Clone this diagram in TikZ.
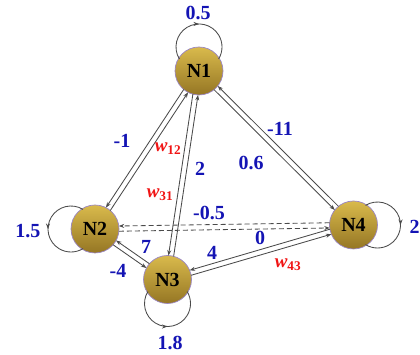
\documentclass[tikz,border=0pt]{standalone}
\usepackage{fontspec}
\setmainfont{Liberation Serif}
\usetikzlibrary{calc,arrows.meta,decorations.markings}

\definecolor{wblue}{HTML}{1414B4}
\definecolor{wred}{HTML}{F01414}
\definecolor{edgegray}{HTML}{4A4A4A}
\definecolor{goldtop}{HTML}{D9BA4C}
\definecolor{goldbot}{HTML}{957624}
\definecolor{rimcol}{HTML}{9A86C4}

\tikzset{
  neuron/.style={circle, minimum size=48pt, inner sep=0pt, draw=rimcol, line width=0.7pt,
    top color=goldtop, bottom color=goldbot,
    font=\fontsize{20}{20}\selectfont\bfseries},
  wire/.style={draw=edgegray, line width=0.85pt, -{Stealth[length=5.5pt,width=4pt]},
    shorten <=23.8pt, shorten >=23.8pt},
  dashwire/.style={wire, dash pattern=on 5pt off 3pt},
  selfloop/.style={draw=edgegray, line width=0.85pt,
    decoration={markings, mark=at position 0.5 with {\arrow{Stealth[length=5.5pt,width=4pt]}}},
    postaction={decorate}},
  wt/.style={text=wblue, font=\fontsize{20}{20}\selectfont\bfseries, inner sep=0pt},
  wname/.style={text=wred, font=\fontsize{19}{19}\selectfont\bfseries\itshape, inner sep=0pt},
}

% directed edge drawn on the right-hand side of the line joining two nodes
\newcommand\rtedge[3][wire]{\draw[#1] ($(#2)!2.6pt!-90:(#3)$) -- ($(#3)!2.6pt!90:(#2)$);}
\newcommand\wsub[2]{#1\textsubscript{\upshape\bfseries #2}}

\begin{document}
\begin{tikzpicture}[x=1pt, y=1pt]
  \useasboundingbox (0,0) rectangle (420,355);

  % neurons
  \node[neuron] (N1) at (199,284) {N1};
  \node[neuron] (N2) at (95,126) {N2};
  \node[neuron] (N3) at (167.5,75.5) {N3};
  \node[neuron] (N4) at (353.5,130) {N4};

  % connections, one per direction
  \rtedge{N1}{N2}
  \rtedge{N2}{N1}
  \rtedge{N1}{N3}
  \rtedge{N3}{N1}
  \rtedge{N1}{N4}
  \rtedge{N4}{N1}
  \rtedge{N2}{N3}
  \rtedge{N3}{N2}
  \rtedge{N3}{N4}
  \rtedge{N4}{N3}
  \rtedge[dashwire]{N2}{N4}
  \rtedge[dashwire]{N4}{N2}

  % self connections
  \draw[selfloop] (N1) ++(-19.6,12) arc[start angle=211.5, end angle=-31.5, radius=23];
  \draw[selfloop] (N2) ++(-12,19.6) arc[start angle=58.5, end angle=301.5, radius=23];
  \draw[selfloop] (N3) ++(-19.6,-12) arc[start angle=148.5, end angle=391.5, radius=23];
  \draw[selfloop] (N4) ++(12,19.6) arc[start angle=121.5, end angle=-121.5, radius=23];

  % weights
  \node[wt] (l11) at (198,342) {0.5};
  \node[wt] (l22) at (28,124) {1.5};
  \node[wt] (l33) at (170,12) {1.8};
  \node[wt] (l44) at (414.5,128) {2};
  \node[wt] (l21) at (122,214) {-1};
  \node[wt] (l13) at (200,186) {2};
  \node[wt] (l41) at (280,226) {-11};
  \node[wt] (l14) at (251,192) {0.6};
  \node[wt] (l24) at (209,142) {-0.5};
  \node[wt] (l32) at (146,108) {7};
  \node[wt] (l23) at (118,84) {-4};
  \node[wt] (l34) at (212,102) {4};
  \node[wt] (l42) at (260,117) {0};

  % weight names
  \node[wname] (n12) at (168,206) {\wsub{w}{12}};
  \node[wname] (n31) at (160,160) {\wsub{w}{31}};
  \node[wname] (n43) at (288,90) {\wsub{w}{43}};
\end{tikzpicture}
\end{document}
